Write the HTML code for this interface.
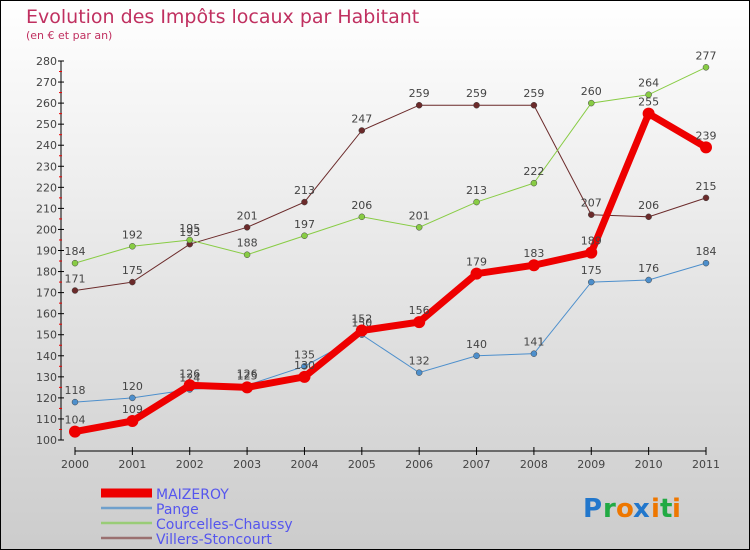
<!DOCTYPE html>
<html><head><meta charset="utf-8"><style>
body{margin:0}
#c{width:750px;height:550px;position:relative;box-sizing:border-box;border:1px solid #000;background:linear-gradient(#fff,#ccc);font-family:"DejaVu Sans","Liberation Sans",sans-serif;overflow:hidden}
</style></head><body>
<div id="c">
<svg id="s" width="748" height="548"></svg>
</div>
<script>
const years=["2000","2001","2002","2003","2004","2005","2006","2007","2008","2009","2010","2011"];
const yTicks=[100,110,120,130,140,150,160,170,180,190,200,210,220,230,240,250,260,270,280];
const maizeroy=[104,109,126,125,130,152,156,179,183,189,255,239];
const pange=[118,120,124,126,135,150,132,140,141,175,176,184];
const courcelles=[184,192,195,188,197,206,201,213,222,260,264,277];
const villers=[171,175,193,201,213,247,259,259,259,207,206,215];
const series=[
 {name:"Villers-Stoncourt",v:villers,c:"#6b2a2a",w:1,r:3,lc:"#9a7070"},
 {name:"Courcelles-Chaussy",v:courcelles,c:"#88cc44",w:1,r:3,lc:"#99cc77"},
 {name:"Pange",v:pange,c:"#4d8fcc",w:1,r:3,lc:"#6fa0cc"},
 {name:"MAIZEROY",v:maizeroy,c:"#ee0000",w:7,r:6,lc:"#ee0000"}
];
const NS="http://www.w3.org/2000/svg";
const s=document.getElementById('s');
function X(i){return 74+i*(705-74)/11}
function Y(v){return 439-(v-100)*(379/180)}
function el(t,a,p){const e=document.createElementNS(NS,t);for(const k in a)e.setAttribute(k,a[k]);(p||s).appendChild(e);return e}
function tx(x,y,str,a){const e=el('text',Object.assign({x:x,y:y,'font-size':12,fill:'#444'},a||{}));e.textContent=str;return e}
let t=tx(25,22,"Evolution des Impôts locaux par Habitant",{'font-size':19,fill:'#c03060'});

t=tx(25,38,"(en € et par an)",{'font-size':11,fill:'#c03060'});

let a=el('line',{x1:60,y1:Y(280),x2:60,y2:Y(100),stroke:'#000'});

yTicks.forEach(v=>{
 el('line',{x1:57,x2:63,y1:Y(v),y2:Y(v),stroke:'#000'});
 if(v<280)el('line',{x1:58,x2:61,y1:Y(v+5),y2:Y(v+5),stroke:'#e00'});
 const l=tx(56,Y(v)+4,String(v),{'text-anchor':'end','font-size':11});
 
});
a=el('line',{x1:X(0),y1:450,x2:X(11),y2:450,stroke:'#000'});

years.forEach((y,i)=>{
 el('line',{x1:X(i),x2:X(i),y1:446,y2:454,stroke:'#000'});
 const l=tx(X(i),467,y,{'text-anchor':'middle','font-size':11});
 
});
series.forEach(sr=>{
 const g=el('g',{});
 
 
 const pl=el('polyline',{points:sr.v.map((v,i)=>X(i)+','+Y(v)).join(' '),fill:'none',stroke:sr.c,'stroke-width':sr.w},g);
 
 sr.v.forEach((v,i)=>{
  const c=el('circle',{cx:X(i),cy:Y(v),r:sr.r,fill:sr.c,stroke:sr.w>1?sr.c:'#444','stroke-width':sr.w>1?0:0.5},g);
  
  const l=tx(X(i),Y(v)-8,String(v),{'text-anchor':'middle','font-size':11},g);
  
 });
});
const leg=[...series].reverse();
leg.forEach((sr,i)=>{
 const y=492+i*15;
 const g=el('g',{});
 
 el('line',{x1:100,x2:151,y1:y,y2:y,stroke:sr.lc,'stroke-width':sr.w>1?9:2.5},g);
 tx(155,y+6,sr.name,{'font-size':14,fill:'#5555ee'},g);
});
const lg=el('g',{});

const cols=["#2277cc","#ee7700","#22aa44","#2277cc","#ee7700","#22aa44"];
"Proxiti".split('').forEach((ch,i)=>{
 const cc=["#2277cc","#22aa44","#ee7700","#2277cc","#ee7700","#22aa44","#ee7700"][i];
 tx(582+[0,20,33,50,68,77,89][i],516,ch,{'font-size':26,'font-weight':'bold',fill:cc},lg);
});
</script>
</body></html>
